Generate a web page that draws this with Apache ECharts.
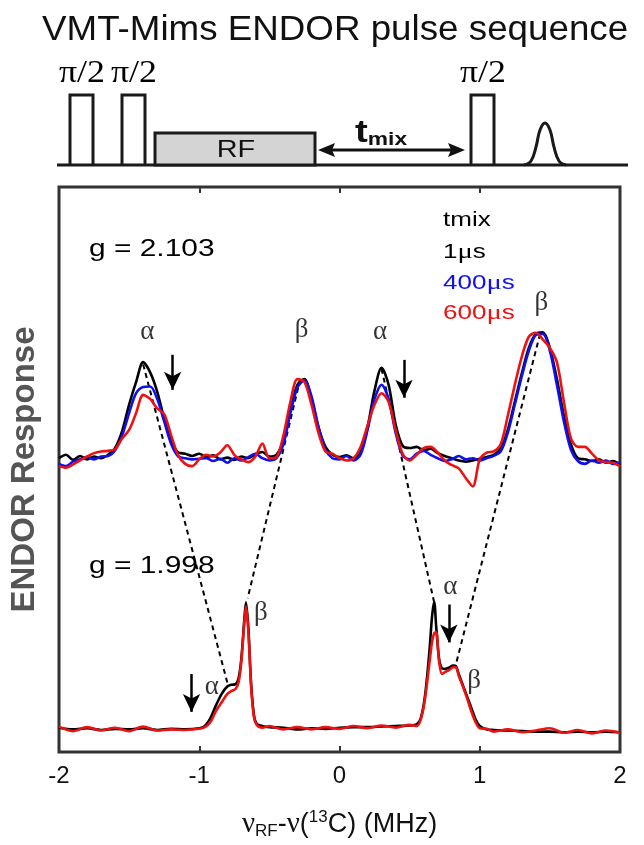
<!DOCTYPE html>
<html><head><meta charset="utf-8">
<script src="https://cdn.jsdelivr.net/npm/echarts@6/dist/echarts.min.js"></script>
<style>html,body{margin:0;padding:0;background:#fff}#c{width:644px;height:845px}</style>
</head><body><div id="c"></div>
<script>
// ---- upper spectrum, g = 2.103 ----
const freqUpper = [-2.00,-1.95,-1.90,-1.85,-1.80,-1.75,-1.70,-1.65,-1.60,-1.55,-1.50,-1.45,-1.40,-1.35,-1.30,-1.25,-1.20,-1.15,-1.10,-1.05,
 -1.00,-0.95,-0.90,-0.85,-0.80,-0.75,-0.70,-0.65,-0.60,-0.55,-0.50,-0.45,-0.40,-0.35,-0.30,-0.25,-0.20,-0.15,-0.10,-0.05,
 0.00,0.05,0.10,0.15,0.20,0.25,0.30,0.35,0.40,0.45,0.50,0.55,0.60,0.65,0.70,0.75,0.80,0.85,0.90,0.95,
 1.00,1.05,1.10,1.15,1.20,1.25,1.30,1.35,1.40,1.45,1.50,1.55,1.60,1.65,1.70,1.75,1.80,1.85,1.90,1.95,2.00];
const upper1us = [52.0,52.6,51.7,52.4,51.8,52.3,52.0,52.6,53.8,56.8,61.5,65.5,69.0,67.2,63.8,59.0,55.0,53.0,52.8,52.4,
 52.8,52.2,52.5,51.8,52.1,51.7,52.3,52.0,52.7,53.1,52.3,52.6,55.0,60.5,65.0,66.0,62.5,57.5,54.0,52.6,
 52.2,52.5,52.0,53.0,57.5,64.0,68.0,65.0,58.0,54.2,53.8,54.0,53.4,53.7,52.9,52.4,52.0,51.6,51.4,51.6,
 51.9,52.2,52.6,53.8,57.0,62.0,67.0,71.5,74.0,74.3,71.5,66.0,59.5,54.5,52.0,51.8,51.5,51.8,51.2,51.5,50.8];
const upper400us = [51.0,50.6,51.4,51.8,52.2,51.8,52.3,52.4,53.4,56.0,60.0,63.5,64.6,64.7,62.5,58.5,54.5,52.3,52.0,51.8,
 51.9,52.0,51.5,51.9,51.2,52.0,51.6,52.2,52.8,52.0,51.6,52.0,54.5,60.0,64.5,65.8,63.0,57.5,53.5,52.0,
 51.8,52.4,51.6,52.6,57.0,62.5,65.0,62.5,56.5,52.5,51.8,52.8,53.3,52.6,52.0,51.5,51.8,52.4,51.8,52.0,
 51.6,52.0,52.4,53.2,56.5,61.5,66.5,71.0,73.8,74.0,71.0,65.0,58.5,53.5,51.5,51.0,51.6,51.2,51.6,51.0,51.3];
const upper600us = [50.6,50.3,50.9,51.6,52.3,52.9,53.2,53.3,53.6,55.5,57.0,60.0,63.2,62.5,60.8,59.8,56.0,52.5,51.0,50.6,
 51.8,52.6,52.3,53.0,54.3,52.6,51.8,51.3,52.3,54.6,52.0,52.2,56.0,62.0,66.0,65.5,61.5,56.5,53.2,52.8,
 52.0,51.6,52.0,54.0,57.8,61.5,63.5,62.0,57.0,52.8,51.6,52.6,53.8,54.0,53.0,51.6,50.8,50.2,48.5,47.0,
 51.8,53.0,53.2,54.5,59.5,65.0,70.0,73.5,74.2,73.0,71.5,69.0,62.0,55.5,54.0,54.0,52.8,51.6,51.3,51.2,50.6];

// ---- lower spectrum, g = 1.998 ----
const freqLower = [-2.0,-1.9,-1.8,-1.7,-1.6,-1.5,-1.4,-1.3,-1.2,-1.1,-1.0,-0.96,-0.92,-0.88,-0.84,-0.80,-0.77,-0.74,-0.72,-0.70,
 -0.68,-0.667,-0.65,-0.63,-0.61,-0.59,-0.55,-0.5,-0.4,-0.3,-0.2,-0.1,0,0.1,0.2,0.3,0.4,0.5,0.55,0.58,
 0.61,0.64,0.66,0.675,0.69,0.71,0.73,0.75,0.78,0.81,0.83,0.85,0.88,0.91,0.94,0.97,1.0,1.05,1.1,1.2,
 1.3,1.4,1.5,1.6,1.7,1.8,1.9,2.0];
const lower1us = [4.3,4.0,4.2,3.9,4.1,4.0,4.2,3.9,4.1,4.0,4.2,4.6,6.0,8.3,10.3,11.6,11.9,12.0,13.0,16.5,
 23.0,26.5,22.0,12.0,6.5,5.0,4.6,4.4,4.3,4.0,4.2,4.1,4.3,4.4,4.4,4.5,4.6,4.7,4.9,6.0,
 10.0,17.5,24.0,26.6,22.0,16.5,14.8,14.7,14.9,15.3,15.2,13.8,11.8,9.8,7.8,5.8,4.6,4.0,3.9,3.8,
 3.7,3.6,3.6,3.5,3.6,3.5,3.6,3.5];
const lower600us = [4.5,3.7,4.4,3.8,4.3,3.7,4.5,3.8,4.0,3.9,4.1,4.4,5.3,7.3,8.8,10.3,10.8,11.2,12.3,16.0,
 22.5,25.8,21.5,11.5,6.2,4.8,4.3,4.6,4.0,4.4,4.0,4.4,4.1,4.6,4.2,4.7,4.3,4.8,4.6,5.8,
 9.5,15.5,19.5,21.0,21.2,16.0,13.8,14.1,14.5,15.0,15.0,13.5,11.6,9.5,7.2,5.3,4.2,4.1,3.6,4.0,
 3.5,3.8,4.2,3.4,3.9,3.3,3.8,3.4];

// ---- annotations (data coordinates) ----
const annoX = [-1.37,-0.27,0.29,1.44,-0.91,-0.56,0.79,0.96];
const annoY = [74.4,74.7,74.4,79.5,11.5,24.7,29.2,12.5];
const annoText = ['α','β','α','β','α','β','α','β'];
const arrowX = [-1.19,0.46,-1.055,0.78];
const arrowTop = [70.3,69.4,13.8,26.1];
const arrowBottom = [64.1,62.7,7.1,19.4];
const dotFrom = [[-1.40,68.6],[-0.28,66.0],[0.30,67.8],[1.43,74.0]];
const dotTo = [[-0.80,12.3],[-0.655,27.2],[0.674,26.6],[0.83,15.5]];
const tickLabels = ['-2','-1','0','1','2'];

const SANS = '"Liberation Sans", Arial, Helvetica, sans-serif';
const SERIF = '"Liberation Serif", "Times New Roman", serif';
const pair = (xs, ys) => xs.map((x, i) => [x, ys[i]]);

function lineSeries(name, xs, ys, color) {
  return { name, type: 'line', data: pair(xs, ys), showSymbol: false, smooth: 0.3,
    lineStyle: { color, width: 2.6 }, itemStyle: { color }, z: 5, silent: true };
}

const chart = echarts.init(document.getElementById('c'), null, { renderer: 'canvas' });

function gtext(x, y, text, opts) {
  opts = opts || {};
  return { type: 'text', x, y, scaleX: opts.sx || 1.28, scaleY: 1, z: 10,
    style: { text, fill: opts.color || '#000', fontSize: opts.size || 22, fontFamily: opts.family || SANS,
      fontWeight: opts.weight || 'normal', align: opts.align || 'left', verticalAlign: 'middle',
      textAlign: opts.align || 'left', textVerticalAlign: 'middle', rich: opts.rich } };
}
function pulse(x0, x1, top, base) {
  return { type: 'polyline', z: 10, shape: { points: [[x0, base], [x0, top], [x1, top], [x1, base]] },
    style: { stroke: '#1a1a1a', lineWidth: 3, fill: null } };
}
const muRich = { mu: { fontFamily: SERIF, fontSize: 22 } };

const graphics = [
  gtext(42, 30, 'VMT-Mims ENDOR pulse sequence', { size: 35, sx: 1.05, color: '#111' }),
  gtext(82, 74, 'π/2', { size: 32, family: SERIF, sx: 1.12, align: 'center' }),
  gtext(134, 74, 'π/2', { size: 32, family: SERIF, sx: 1.12, align: 'center' }),
  gtext(483, 74, 'π/2', { size: 32, family: SERIF, sx: 1.12, align: 'center' }),
  { type: 'polyline', z: 9, shape: { points: [[57, 165], [628, 165]] }, style: { stroke: '#1a1a1a', lineWidth: 3 } },
  pulse(70, 93, 95, 165),
  pulse(122, 145, 95, 165),
  pulse(471, 494, 95, 165),
  { type: 'rect', z: 10, shape: { x: 155, y: 133, width: 160, height: 32 },
    style: { fill: '#d4d4d4', stroke: '#1a1a1a', lineWidth: 3 } },
  gtext(236, 150, 'RF', { size: 24, sx: 1.2, align: 'center', color: '#111' }),
  { type: 'polyline', z: 10, shape: { points: [[330, 150], [453, 150]] }, style: { stroke: '#111', lineWidth: 3 } },
  { type: 'polygon', z: 10, shape: { points: [[318, 150], [335, 143], [332, 150], [335, 157]] }, style: { fill: '#111' } },
  { type: 'polygon', z: 10, shape: { points: [[465, 150], [448, 143], [451, 150], [448, 157]] }, style: { fill: '#111' } },
  { type: 'text', x: 355, y: 133, scaleX: 1.2, z: 10,
    style: { text: '{t|t}{m|mix}', verticalAlign: 'middle', textVerticalAlign: 'middle',
      rich: { t: { fontSize: 32, fontWeight: 'bold', fontFamily: SANS, fill: '#111', verticalAlign: 'top' },
              m: { fontSize: 19, fontWeight: 'bold', fontFamily: SANS, fill: '#111', verticalAlign: 'bottom' } } } },
  { type: 'polyline', z: 10, shape: { smooth: 0.4, points: [[524, 165], [531, 161], [536, 147], [540, 130], [545, 123], [550, 130], [554, 147], [559, 161], [566, 165]] },
    style: { stroke: '#1a1a1a', lineWidth: 3, fill: null } },
  gtext(89, 250, 'g = 2.103', { size: 23, sx: 1.3 }),
  gtext(89, 567, 'g = 1.998', { size: 23, sx: 1.3 }),
  gtext(443, 220, 'tmix', { size: 20, sx: 1.3 }),
  gtext(443, 252, '1{mu|μ}s', { size: 20, sx: 1.3, rich: muRich }),
  gtext(443, 283, '400{mu|μ}s', { size: 20, sx: 1.3, color: '#1010ee', rich: { mu: { fontFamily: SERIF, fontSize: 22, fill: '#1010ee' } } }),
  gtext(443, 313, '600{mu|μ}s', { size: 20, sx: 1.3, color: '#ee1111', rich: { mu: { fontFamily: SERIF, fontSize: 22, fill: '#ee1111' } } })
];

const option = {
  animation: false,
  backgroundColor: '#fff',
  grid: { left: 53, right: 24, top: 187, bottom: 92, show: true, borderColor: '#333', borderWidth: 3, backgroundColor: 'transparent' },
  xAxis: [
    { type: 'value', min: -2, max: 2, interval: 1, position: 'bottom',
      name: '{nu|ν}{sub|RF}-{nu|ν}({sup|13}C) (MHz)', nameLocation: 'middle', nameGap: 57,
      nameTextStyle: { fontSize: 27, fontFamily: SANS, color: '#111',
        rich: { nu: { fontSize: 29, fontFamily: SERIF, color: '#111' },
                sub: { fontSize: 17, fontFamily: SANS, color: '#111', verticalAlign: 'bottom', padding: [14, 0, 0, 0] },
                sup: { fontSize: 17, fontFamily: SANS, color: '#111', verticalAlign: 'top', padding: [0, 0, 8, 0] } } },
      axisLine: { show: false }, splitLine: { show: false },
      axisTick: { show: true, inside: true, length: 6, lineStyle: { color: '#333', width: 2 } },
      axisLabel: { fontSize: 24, fontFamily: SANS, color: '#111', margin: 12, formatter: v => tickLabels[Math.round(v) + 2] } },
    { type: 'value', min: -2, max: 2, interval: 1, position: 'top',
      axisLine: { show: false }, splitLine: { show: false }, axisLabel: { show: false },
      axisTick: { show: true, inside: true, length: 6, lineStyle: { color: '#333', width: 2 } } }
  ],
  yAxis: { type: 'value', min: 0, max: 100, name: 'ENDOR Response', nameLocation: 'middle', nameGap: 18,
    nameTextStyle: { fontSize: 33, fontWeight: 'bold', fontFamily: SANS, color: '#555' },
    axisLine: { show: false }, axisTick: { show: false }, axisLabel: { show: false }, splitLine: { show: false } },
  series: [
    lineSeries('1μs', freqUpper, upper1us, '#000000'),
    lineSeries('400μs', freqUpper, upper400us, '#1010ee'),
    lineSeries('600μs', freqUpper, upper600us, '#ee1111'),
    lineSeries('1μs', freqLower, lower1us, '#000000'),
    lineSeries('600μs', freqLower, lower600us, '#ee1111'),
    { name: 'labels', type: 'scatter', symbolSize: 0, z: 8, silent: true,
      data: annoX.map((x, i) => ({ value: [x, annoY[i]], label: { formatter: annoText[i] } })),
      label: { show: true, position: 'inside', fontSize: 27, fontFamily: SERIF, color: '#000' },
      markLine: { silent: true, animation: false, symbol: ['none', 'arrow'], symbolSize: [13, 18],
        label: { show: false }, lineStyle: { color: '#000', width: 2.5, type: 'solid' },
        data: arrowX.map((x, i) => [{ coord: [x, arrowTop[i]] }, { coord: [x, arrowBottom[i]] }]) } },
    { name: 'guides', type: 'scatter', data: [], z: 4, silent: true,
      markLine: { silent: true, animation: false, symbol: ['none', 'none'],
        label: { show: false }, lineStyle: { color: '#000', width: 2, type: [5, 4] },
        data: dotFrom.map((p, i) => [{ coord: p }, { coord: dotTo[i] }]) } }
  ],
  graphic: graphics
};
chart.setOption(option);
</script></body></html>
